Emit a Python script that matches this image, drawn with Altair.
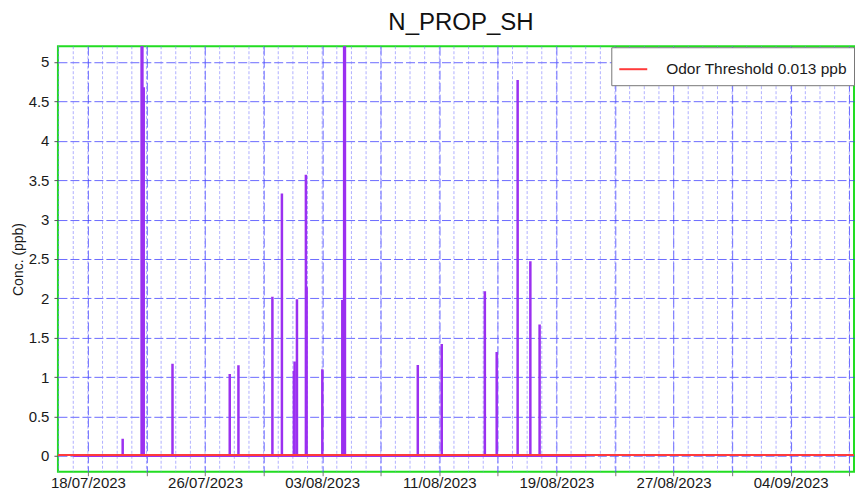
import altair as alt
import pandas as pd

title_text = "N_PROP_SH"
y_title = "Conc. (ppb)"
legend_label = "Odor Threshold 0.013 ppb"
threshold_value = 0.013

spike_times = [
    "2023-07-20T09:00", "2023-07-21T16:00", "2023-07-21T17:20", "2023-07-21T19:30",
    "2023-07-23T18:40", "2023-07-27T16:30", "2023-07-28T06:45", "2023-07-30T14:25",
    "2023-07-31T06:00", "2023-08-01T01:40", "2023-08-01T02:50", "2023-08-01T06:40",
    "2023-08-01T21:20", "2023-08-01T22:30", "2023-08-03T00:15", "2023-08-04T09:00",
    "2023-08-04T10:30", "2023-08-04T12:00", "2023-08-04T13:20", "2023-08-09T12:45",
    "2023-08-11T04:00", "2023-08-14T02:40", "2023-08-14T22:05", "2023-08-16T08:25",
    "2023-08-17T05:15", "2023-08-17T20:25",
]
spike_values = [
    0.22, 5.6, 5.6, 4.68,
    1.17, 1.04, 1.15, 2.02,
    3.33, 1.08, 1.20, 1.99,
    3.57, 2.14, 1.10, 1.98,
    1.98, 5.6, 5.6, 1.155,
    1.42, 2.09, 1.32, 4.77,
    2.47, 1.67,
]

baseline_times = ["2023-07-17T00:00", "2023-08-21T01:00"]
baseline_values = [0.0, 0.0]

y_ticks = [0, 0.5, 1, 1.5, 2, 2.5, 3, 3.5, 4, 4.5, 5]
x_major_days = [(2023, 7, 18), (2023, 7, 22), (2023, 7, 26), (2023, 7, 30), (2023, 8, 3),
                (2023, 8, 7), (2023, 8, 11), (2023, 8, 15), (2023, 8, 19), (2023, 8, 23),
                (2023, 8, 27), (2023, 8, 31), (2023, 9, 4), (2023, 9, 8)]
x_labels = ["18/07/2023", "26/07/2023", "03/08/2023", "11/08/2023",
            "19/08/2023", "27/08/2023", "04/09/2023"]
minor_days = [d.strftime("%Y-%m-%d") for d in pd.date_range("2023-07-16", "2023-09-08", freq="D")]

FONT = "Liberation Sans"
GRID_BLUE = "#3a3aff"

spikes = pd.DataFrame({"time": spike_times, "value": spike_values})
baseline = pd.DataFrame({"time": baseline_times, "value": baseline_values})
threshold = pd.DataFrame({"label": [legend_label], "value": [threshold_value]})
minor = pd.DataFrame({"time": minor_days})

label_list = "[" + ",".join("'%s'" % s for s in x_labels) + "]"
label_expr = ("indexof(%s, timeFormat(datum.value, '%%d/%%m/%%Y')) >= 0 ? "
              "timeFormat(datum.value, '%%d/%%m/%%Y') : ''") % label_list

x_scale = alt.Scale(domain=[alt.DateTime(year=2023, month=7, date=15, hours=22, minutes=53),
                            alt.DateTime(year=2023, month=9, date=8, hours=7, minutes=46)])
x_axis = alt.Axis(
    values=[alt.DateTime(year=y, month=m, date=d) for (y, m, d) in x_major_days],
    labelExpr=label_expr, title=None, grid=True, gridDash=[9, 3], gridColor=GRID_BLUE,
    gridOpacity=0.75, tickColor="#777", tickSize=4, labelPadding=0, domain=False,
    labelFontSize=15, labelColor="#1a1a1a", labelFont=FONT, labelFlush=False,
)
y_scale = alt.Scale(domain=[-0.2, 5.2], nice=False, zero=False)
y_axis = alt.Axis(
    values=y_ticks, format="~g", title=y_title, grid=True, gridDash=[9, 3],
    gridColor=GRID_BLUE, gridOpacity=0.75, tickColor="#555", tickSize=4, labelPadding=5,
    domain=False, labelFontSize=15, labelColor="#1a1a1a", labelFont=FONT,
    titleFont=FONT, titleFontSize=14, titleFontWeight="normal", titleColor="#1a1a1a",
    titlePadding=3,
)

X = lambda f: alt.X(f, type="temporal", scale=x_scale, axis=x_axis)

minor_layer = alt.Chart(minor).mark_rule(
    color="#7c7cff", strokeWidth=1, strokeDash=[3, 2], opacity=0.6
).encode(x=X("time"))

spike_layer = alt.Chart(spikes).mark_rule(
    color="#9b30f0", strokeWidth=2.5, clip=True
).encode(x=X("time"), y=alt.Y("value:Q", scale=y_scale, axis=y_axis), y2=alt.datum(0))

base_layer = alt.Chart(baseline).mark_line(
    color="#9b30f0", strokeWidth=2, clip=True
).encode(x=X("time"), y=alt.Y("value:Q", scale=y_scale, axis=y_axis))

thr_layer = alt.Chart(threshold).mark_rule(strokeWidth=2).encode(
    y=alt.Y("value:Q", scale=y_scale, axis=y_axis),
    color=alt.Color("label:N", scale=alt.Scale(domain=[legend_label], range=["#ff3b3b"]),
                    legend=alt.Legend(orient="none", legendX=554, legendY=1, title=None,
                                      fillColor="white", strokeColor="#777", padding=7,
                                      labelFontSize=15.5, labelFont=FONT, labelColor="#1a1a1a",
                                      labelLimit=400,
                                      symbolType="stroke", symbolSize=784,
                                      symbolStrokeWidth=2, labelOffset=18)),
)

chart = alt.layer(minor_layer, spike_layer, base_layer, thr_layer).properties(
    width=797, height=426,
    title=alt.Title(title_text, fontSize=24, font=FONT, fontWeight="normal",
                    color="#111", anchor="middle", frame="group", offset=11, dx=5),
    padding={"left": 3, "top": 2, "right": 0, "bottom": 0},
    background="white",
).configure_view(stroke="#22dd22", strokeWidth=2)

chart.save("out.html", embed_options={"renderer": "svg", "actions": False})
